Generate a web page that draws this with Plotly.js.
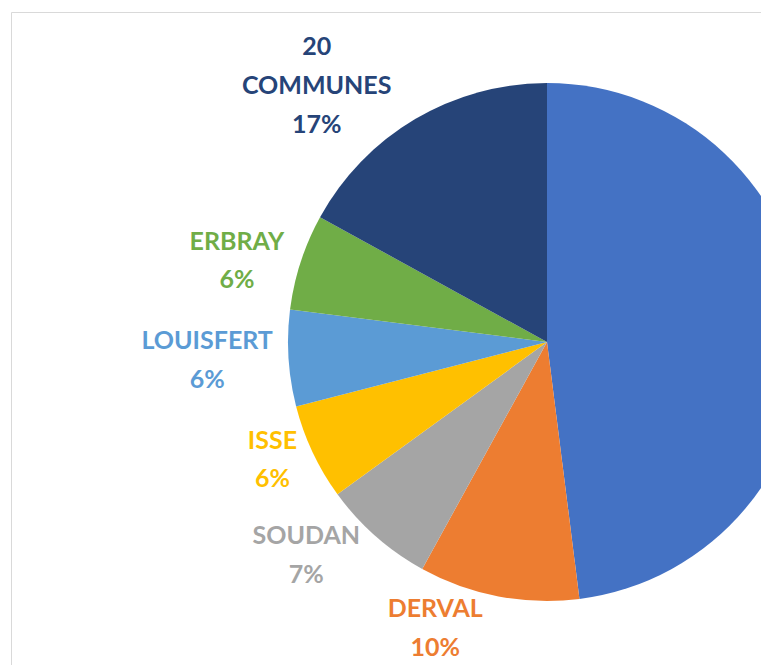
<!DOCTYPE html>
<html>
<head>
<meta charset="utf-8">
<script src="https://cdn.plot.ly/plotly-3.0.1.min.js"></script>
<style>
html, body { margin: 0; padding: 0; overflow: hidden; background: #fff; }
#chart { width: 900px; height: 665px; }
</style>
</head>
<body>
<div id="chart"></div>
<script>
// Data
var labels = ["CHATEAUBRIANT", "DERVAL", "SOUDAN", "ISSE", "LOUISFERT", "ERBRAY", "20<br>COMMUNES"];
var shares = [48, 10, 7, 6, 6, 6, 17];
var showLabel = [false, true, true, true, true, true, true];
var sliceColors = ["#4472C4", "#ED7D31", "#A5A5A5", "#FFC000", "#5B9BD5", "#70AD47", "#264478"];
var labelColors = ["#4472C4", "#ED7D31", "#A5A5A5", "#FFC000", "#5B9BD5", "#70AD47", "#264478"];

var texts = labels.map(function (l, i) { return showLabel[i] ? l + "<br>" + shares[i] + "%" : ""; });

var W = 900, H = 665;
var cx = 547, cy = 342, r = 259;

var trace = {
  type: "pie",
  labels: labels,
  values: shares,
  text: texts,
  textinfo: "text",
  textposition: "outside",
  hoverinfo: "none",
  sort: false,
  direction: "clockwise",
  rotation: 0,
  marker: { colors: sliceColors, line: { width: 0 } },
  outsidetextfont: { family: "Lato, 'Open Sans', sans-serif", size: 25, weight: "bold", color: labelColors },
  showlegend: false,
  automargin: false,
  domain: { x: [(cx - r) / W, (cx + r) / W], y: [(H - cy - r) / H, (H - cy + r) / H] }
};

var layout = {
  width: W,
  height: H,
  margin: { l: 0, r: 0, t: 0, b: 0 },
  paper_bgcolor: "#ffffff",
  showlegend: false,
  shapes: [{
    type: "rect", xref: "paper", yref: "paper",
    x0: 11.5 / W, x1: 1.2, y0: -0.2, y1: 1 - 12.5 / H,
    line: { color: "#d9d9d9", width: 1 }, fillcolor: "rgba(0,0,0,0)"
  }]
};

Plotly.newPlot("chart", [trace], layout, { displayModeBar: false, staticPlot: true }).then(function () {
  // widen line spacing of the slice labels (Excel-like), keeping each label centred
  var LS = 1.55;
  document.querySelectorAll("#chart .slicetext").forEach(function (t) {
    var lines = t.querySelectorAll("tspan.line");
    var n = lines.length;
    var shift = (n - 1) * (LS - 1.3) / 2;
    lines.forEach(function (l, i) { l.setAttribute("dy", (i * LS - shift) + "em"); });
  });
});
</script>
</body>
</html>
